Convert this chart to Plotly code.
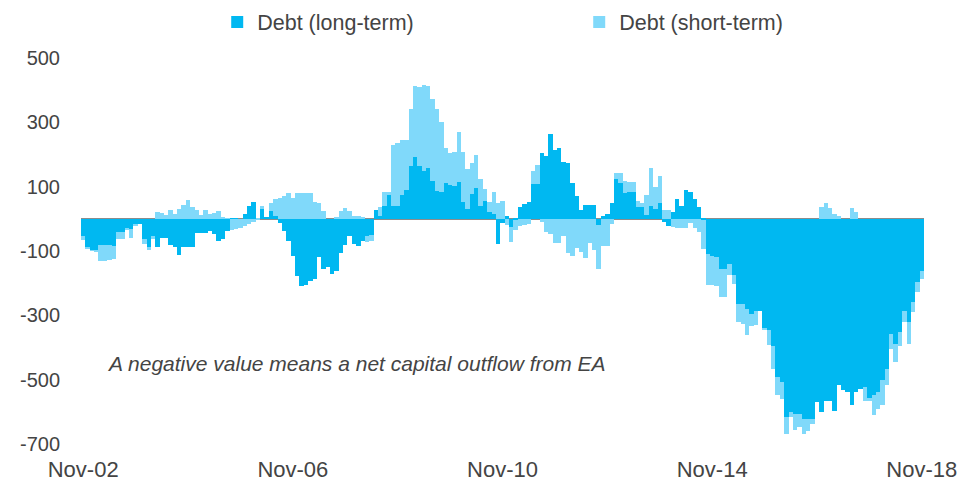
import pandas as pd
import plotly.graph_objects as go

# Monthly observations, Nov-2002 .. Nov-2018
months = pd.date_range("2002-11-01", "2018-11-01", freq="MS").strftime("%b-%y").tolist()

debt_long_term = [
    -52, -88, -97, -99, -80, -82, -82, -84, -42, -40, -30, -32,
    -17, -17, -62, -88, -52, -88, -60, -60, -80, -88, -112, -88,
    -88, -86, -45, -45, -45, -38, -48, -70, -62, -38, -2, -2,
    0, 15, 39, 52, 0, 31, 3, 23, 8, -12, -38, -69,
    -116, -178, -209, -207, -194, -188, -118, -155, -149, -170, -163, -106,
    -80, -52, -77, -85, -69, -54, -50, 28, 10, 41, 75, 39,
    39, 73, 91, 164, 192, 164, 150, 157, 119, 86, 83, 112,
    105, 101, 116, 52, 31, 78, 95, 41, 55, 20, 15, -78,
    -14, 8, -24, -3, 38, 47, 52, 107, 107, 204, 194, 264,
    214, 221, 178, 174, 111, 72, 28, 43, 43, 43, -18, 8,
    16, 49, 124, 111, 80, 83, 83, 36, 36, 13, 41, 31,
    49, -10, -21, 20, 61, 41, 89, 84, 63, 37, -5, -109,
    -114, -119, -155, -155, -140, -176, -264, -264, -280, -295, -285, -285,
    -342, -347, -394, -492, -506, -616, -601, -606, -606, -622, -622, -622,
    -568, -601, -565, -565, -596, -517, -533, -539, -580, -539, -528, -523,
    -559, -549, -539, -502, -466, -357, -389, -352, -285, -321, -259, -197,
    -161,
]

debt_short_term = [
    -14, -5, -3, -2, -50, -50, -45, -40, -22, -22, -5, -28,
    -5, 0, -15, -8, -12, 22, 18, 12, 26, 15, 30, 43,
    60, 38, 28, 13, 28, 15, 18, 23, 3, 2, -33, -30,
    -28, -23, -15, -10, -4, 10, 0, 25, 54, 65, 70, 81,
    65, 81, 81, 79, 79, 52, 48, 24, 0, 0, 6, 24,
    34, 24, 10, 8, 6, -18, -19, 0, 26, 42, 8, 191,
    196, 173, 155, 178, 222, 245, 267, 257, 254, 256, 219, 108,
    100, 108, 155, 157, 124, 95, 102, 83, 38, 32, 68, 50,
    55, -18, -48, -33, -21, -18, -16, 41, 60, -10, -41, -47,
    -75, -75, -52, -107, -114, -90, -104, -121, -76, -98, -139, -85,
    -83, -16, 18, 31, 39, 33, 33, 19, 13, 62, 116, 69,
    83, 26, 26, -25, -29, -29, -29, -12, -30, -41, -90, -96,
    -93, -90, -88, -88, -36, -26, -57, -62, -80, -37, -45, 0,
    -5, -45, -72, -57, -53, -52, -15, -52, -42, -46, -38, -15,
    0, 38, 50, 33, 16, 10, 0, 0, 33, 21, 0, -42,
    -6, -62, -51, -78, -52, -47, -57, -42, -36, -68, -31, -31,
    -25,
]

x_ticks = ["Nov-02", "Nov-06", "Nov-10", "Nov-14", "Nov-18"]
y_ticks = [500, 300, 100, -100, -300, -500, -700]
y_tick_text = [str(v) for v in y_ticks]  # plain hyphen for negatives

DARK = "#00B8F1"
LIGHT = "#80D9FA"
TEXT = "#444444"
FONT = "Liberation Sans, Arial, sans-serif"

fig = go.Figure()
fig.add_trace(go.Bar(x=months, y=debt_long_term, name="Debt (long-term)",
                     marker=dict(color=DARK, line=dict(width=0))))
fig.add_trace(go.Bar(x=months, y=debt_short_term, name="Debt (short-term)",
                     marker=dict(color=LIGHT, line=dict(width=0))))

fig.update_layout(
    width=959, height=484,
    margin=dict(l=81, r=35, t=58, b=40, autoexpand=False),
    barmode="relative", bargap=0,
    plot_bgcolor="white", paper_bgcolor="white",
    font=dict(family=FONT, size=20, color=TEXT),
    showlegend=True,
    legend=dict(orientation="h", x=0.591, xanchor="center", y=1.093, yanchor="middle",
                entrywidth=317, font=dict(size=21.5, color=TEXT),
                itemwidth=30, bgcolor="rgba(0,0,0,0)"),
    xaxis=dict(type="category", tickmode="array", tickvals=x_ticks, ticktext=x_ticks,
               showgrid=False, showline=False, zeroline=False, ticks="",
               automargin=False,
               ticklabelstandoff=10, tickfont=dict(size=22, color=TEXT)),
    yaxis=dict(range=[-700, 500], tickmode="array", tickvals=y_ticks, ticktext=y_tick_text,
               showgrid=False, showline=False, ticks="",
               automargin=False,
               zeroline=True, zerolinecolor="#8C8C8C", zerolinewidth=2,
               layer="above traces",
               ticklabelstandoff=20, tickfont=dict(size=20, color=TEXT)),
    annotations=[dict(text="<i>A negative value means a net capital outflow from EA</i>",
                      xref="paper", yref="y", x=(105 - 81) / 843, y=-450,
                      xanchor="left", yanchor="middle", showarrow=False,
                      font=dict(size=21, color=TEXT))],
)

fig.write_html("out.html")
